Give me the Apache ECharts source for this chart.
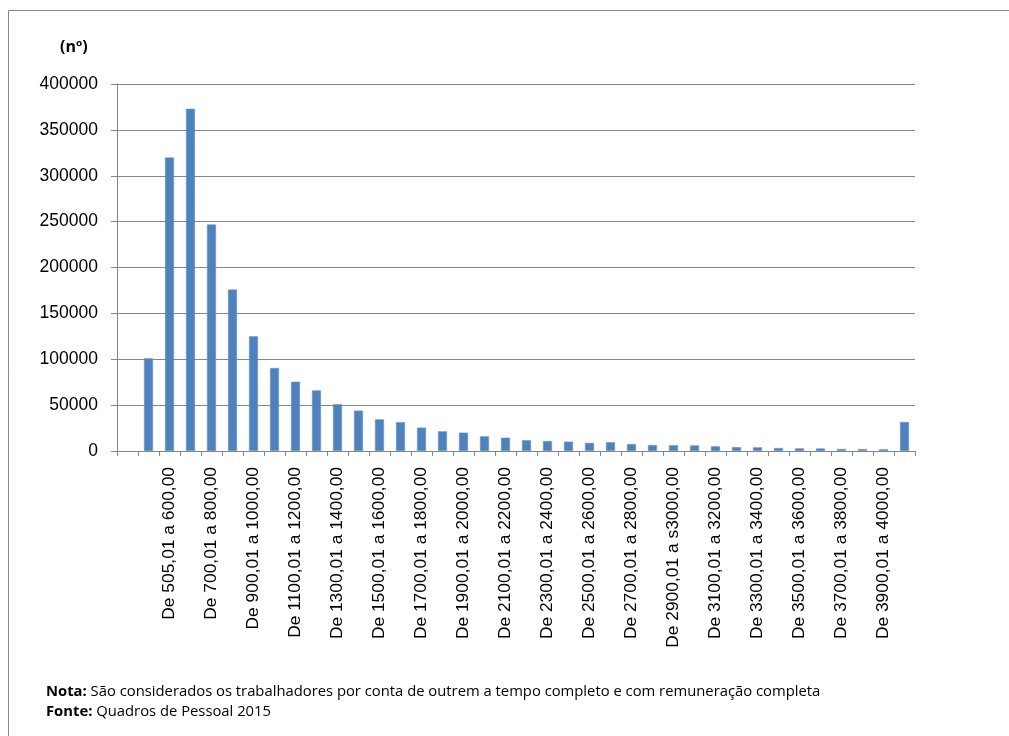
<!DOCTYPE html>
<html>
<head>
<meta charset="utf-8">
<script src="https://cdn.jsdelivr.net/npm/echarts@6/dist/echarts.min.js"></script>
<style>
html,body{margin:0;padding:0;background:#fff;}
#chart{width:1009px;height:736px;}
</style>
</head>
<body>
<div id="chart"></div>
<script>
// escalões de remuneração (o primeiro fica vazio, como no original)
var categories = [
    '', '505,00',
    'De 505,01 a 600,00', 'De 600,01 a 700,00', 'De 700,01 a 800,00', 'De 800,01 a 900,00',
    'De 900,01 a 1000,00', 'De 1000,01 a 1100,00', 'De 1100,01 a 1200,00', 'De 1200,01 a 1300,00',
    'De 1300,01 a 1400,00', 'De 1400,01 a 1500,00', 'De 1500,01 a 1600,00', 'De 1600,01 a 1700,00',
    'De 1700,01 a 1800,00', 'De 1800,01 a 1900,00', 'De 1900,01 a 2000,00', 'De 2000,01 a 2100,00',
    'De 2100,01 a 2200,00', 'De 2200,01 a 2300,00', 'De 2300,01 a 2400,00', 'De 2400,01 a 2500,00',
    'De 2500,01 a 2600,00', 'De 2600,01 a 2700,00', 'De 2700,01 a 2800,00', 'De 2800,01 a 2900,00',
    'De 2900,01 a s3000,00', 'De 3000,01 a 3100,00', 'De 3100,01 a 3200,00', 'De 3200,01 a 3300,00',
    'De 3300,01 a 3400,00', 'De 3400,01 a 3500,00', 'De 3500,01 a 3600,00', 'De 3600,01 a 3700,00',
    'De 3700,01 a 3800,00', 'De 3800,01 a 3900,00', 'De 3900,01 a 4000,00', 'Mais de 4000,00'
];

// nº de trabalhadores
var workers = [
    null, 101000,
    320000, 373000, 247000, 176000,
    125000, 90500, 75500, 66000,
    51000, 44000, 34500, 31500,
    25500, 21500, 20000, 16000,
    14500, 11800, 10900, 10200,
    8800, 9600, 7600, 6500,
    6300, 6100, 5100, 4300,
    4000, 3300, 2900, 2800,
    2200, 2100, 2000, 31600
];

var yTicks = { min: 0, max: 400000, interval: 50000 };

var unitLabel = '(nº)';
var noteLabel = 'Nota:';
var noteText = ' São considerados os trabalhadores por conta de outrem a tempo completo e com remuneração completa';
var sourceLabel = 'Fonte:';
var sourceText = ' Quadros de Pessoal 2015';

var myChart = echarts.init(document.getElementById('chart'));
var axisGray = '#868686';

var option = {
    animation: false,
    textStyle: { fontFamily: 'Liberation Sans, Arial, sans-serif' },
    grid: {
        left: 117,
        right: 94,
        top: 84,
        bottom: 285,
        containLabel: false
    },
    graphic: [
        {
            type: 'rect',
            shape: { x: 8.5, y: 10.5, width: 1020, height: 740 },
            style: { fill: 'none', stroke: axisGray, lineWidth: 1 },
            silent: true
        },
        {
            type: 'text',
            left: 60,
            top: 39,
            style: {
                text: unitLabel,
                font: 'bold 16px "Open Sans", sans-serif',
                fill: '#000'
            }
        },
        {
            type: 'text',
            left: 46,
            top: 682,
            style: {
                text: '{b|' + noteLabel + '}' + noteText + '\n{b|' + sourceLabel + '}' + sourceText,
                font: '14.8px "Open Sans", sans-serif',
                fill: '#000',
                lineHeight: 20,
                rich: {
                    b: { fontWeight: 'bold', fontFamily: 'Open Sans', fontSize: 14.8 }
                }
            }
        }
    ],
    xAxis: {
        type: 'category',
        data: categories,
        boundaryGap: true,
        axisLine: { lineStyle: { color: axisGray, width: 1 } },
        axisTick: {
            show: true,
            interval: 0,
            alignWithLabel: false,
            length: 5,
            lineStyle: { color: axisGray }
        },
        axisLabel: {
            interval: 1,
            rotate: 90,
            margin: 16,
            color: '#000',
            fontSize: 17.4,
            fontFamily: 'Liberation Sans'
        }
    },
    yAxis: {
        type: 'value',
        min: yTicks.min,
        max: yTicks.max,
        interval: yTicks.interval,
        axisLine: { show: true, lineStyle: { color: axisGray, width: 1 } },
        axisTick: { show: true, length: 6, lineStyle: { color: axisGray } },
        splitLine: { show: true, lineStyle: { color: axisGray, width: 1 } },
        axisLabel: {
            margin: 19,
            color: '#000',
            fontSize: 17.5,
            fontFamily: 'Liberation Sans',
            formatter: function (v) { return String(v); }
        }
    },
    series: [
        {
            name: 'Trabalhadores',
            type: 'bar',
            data: workers,
            barWidth: 9,
            itemStyle: {
                color: '#4F81BD',
                borderColor: '#6f97c9',
                borderWidth: 0.5
            }
        }
    ]
};
myChart.setOption(option);
</script>
</body>
</html>
